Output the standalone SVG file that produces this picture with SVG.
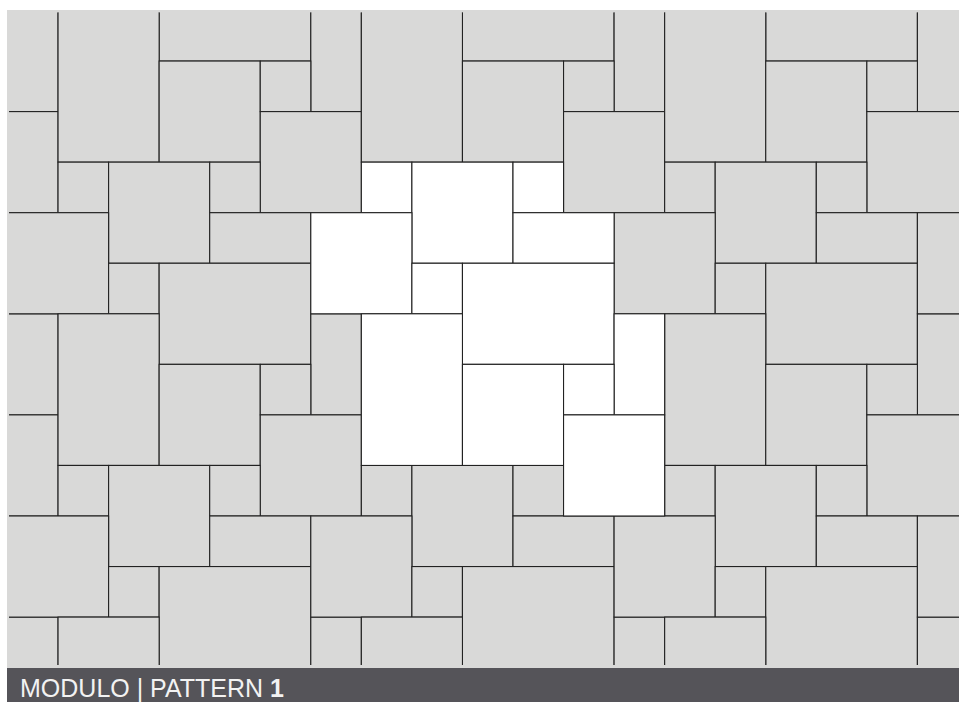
<svg xmlns="http://www.w3.org/2000/svg" xmlns:xlink="http://www.w3.org/1999/xlink" width="959" height="702" viewBox="0 0 959 702">
<style>
.bg{fill:#d9d9d8}
.gray{fill:#d9d9d8;stroke:#222;stroke-width:1.1}
.white{fill:#ffffff;stroke:#222;stroke-width:1.1}
.bar{fill:#555459}
.label{font-family:"Liberation Sans",Arial,Helvetica,sans-serif;font-size:25px;fill:#f2f2f2}
</style>
<defs>
<clipPath id="field"><rect x="9" y="12.5" width="950" height="652.5"/></clipPath>
<g id="module">
<rect x="361.35" y="162.15" width="50.55" height="50.55"/>
<rect x="411.9" y="162.15" width="101.1" height="101.1"/>
<rect x="513" y="162.15" width="50.55" height="50.55"/>
<rect x="513" y="212.7" width="101.1" height="50.55"/>
<rect x="310.8" y="212.7" width="101.1" height="101.1"/>
<rect x="411.9" y="263.25" width="50.55" height="50.55"/>
<rect x="462.45" y="263.25" width="151.65" height="101.1"/>
<rect x="361.35" y="313.8" width="101.1" height="151.65"/>
<rect x="614.1" y="313.8" width="50.55" height="101.1"/>
<rect x="462.45" y="364.35" width="101.1" height="101.1"/>
<rect x="563.55" y="364.35" width="50.55" height="50.55"/>
<rect x="563.55" y="414.9" width="101.1" height="101.1"/>
</g>
</defs>
<rect class="bg" x="7" y="10" width="952" height="658"/>
<g id="paving" clip-path="url(#field)">
<use class="gray" href="#module" xlink:href="#module" transform="translate(-606.6,-303.3)"/>
<use class="gray" href="#module" xlink:href="#module" transform="translate(-303.3,-303.3)"/>
<use class="gray" href="#module" xlink:href="#module" transform="translate(0,-303.3)"/>
<use class="gray" href="#module" xlink:href="#module" transform="translate(303.3,-303.3)"/>
<use class="gray" href="#module" xlink:href="#module" transform="translate(606.6,-303.3)"/>
<use class="gray" href="#module" xlink:href="#module" transform="translate(-606.6,0)"/>
<use class="gray" href="#module" xlink:href="#module" transform="translate(-303.3,0)"/>
<use class="gray" href="#module" xlink:href="#module" transform="translate(303.3,0)"/>
<use class="gray" href="#module" xlink:href="#module" transform="translate(606.6,0)"/>
<use class="gray" href="#module" xlink:href="#module" transform="translate(-606.6,303.3)"/>
<use class="gray" href="#module" xlink:href="#module" transform="translate(-303.3,303.3)"/>
<use class="gray" href="#module" xlink:href="#module" transform="translate(0,303.3)"/>
<use class="gray" href="#module" xlink:href="#module" transform="translate(303.3,303.3)"/>
<use class="gray" href="#module" xlink:href="#module" transform="translate(606.6,303.3)"/>
</g>
<g id="highlighted-module">
<use class="white" href="#module" xlink:href="#module"/>
</g>
<g id="caption">
<rect class="bar" x="7" y="668" width="952" height="34"/>
<text class="label" x="20" y="697">MODULO | PATTERN <tspan font-weight="bold">1</tspan></text>
</g>
</svg>
